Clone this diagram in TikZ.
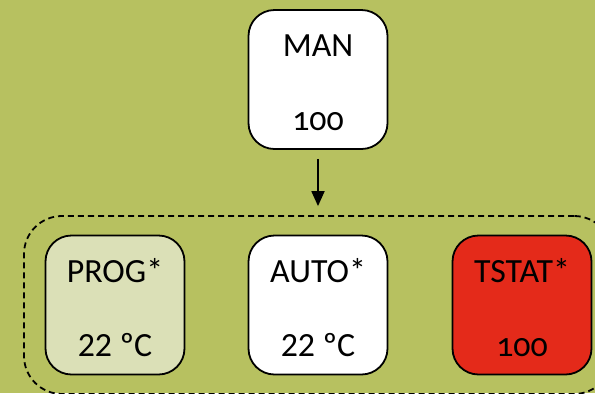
\documentclass[tikz,border=0pt]{standalone}
\usepackage{fontspec}
\setmainfont{Carlito}
\newfontfamily\oldnum[Numbers=OldStyle]{Carlito}
\usetikzlibrary{arrows.meta}
\definecolor{bg}{RGB}{183,193,96}
\definecolor{lightbox}{RGB}{219,224,183}
\definecolor{redbox}{RGB}{228,42,26}
\tikzset{
  modebox/.style={draw=black, line width=1.8bp, rounded corners=26bp,
    minimum width=139bp, minimum height=139bp, inner sep=0pt},
  boxtext/.style={anchor=base, inner sep=0pt, font=\fontsize{34}{40}\selectfont},
  groupbox/.style={draw=black, line width=1.8bp, dash pattern=on 6bp off 4bp,
    rounded corners=38bp, minimum width=588bp, minimum height=178bp, inner sep=0pt},
  flowarrow/.style={line width=1.8bp, -{Triangle[length=15bp,width=13bp]}}
}
\begin{document}
\begin{tikzpicture}[x=1bp,y=-1bp]
\fill[bg] (0,0) rectangle (595,393);
\useasboundingbox (0,0) rectangle (595,393);
\node[groupbox] (group) at (318,305) {};
\node[modebox, fill=white] (man) at (318,79.5) {};
\node[modebox, fill=lightbox] (prog) at (115,305) {};
\node[modebox, fill=white] (auto) at (318,305) {};
\node[modebox, fill=redbox] (tstat) at (522,305) {};
\node[boxtext] (mant) at ([yshift=23bp]man.center) {MAN};
\node[boxtext] (manv) at ([yshift=-51bp]man.center) {\oldnum 100};
\node[boxtext] (progt) at ([yshift=23bp]prog.center) {PROG*};
\node[boxtext] (progv) at ([yshift=-51bp]prog.center) {22 ºC};
\node[boxtext] (autot) at ([yshift=23bp]auto.center) {AUTO*};
\node[boxtext] (autov) at ([yshift=-51bp]auto.center) {22 ºC};
\node[boxtext] (tstatt) at ([yshift=23bp]tstat.center) {TSTAT*};
\node[boxtext] (tstatv) at ([yshift=-51bp]tstat.center) {\oldnum 100};
\draw[flowarrow] ([yshift=-9bp]man.south) -- ([yshift=9bp]man.south |- group.north);
\end{tikzpicture}
\end{document}
